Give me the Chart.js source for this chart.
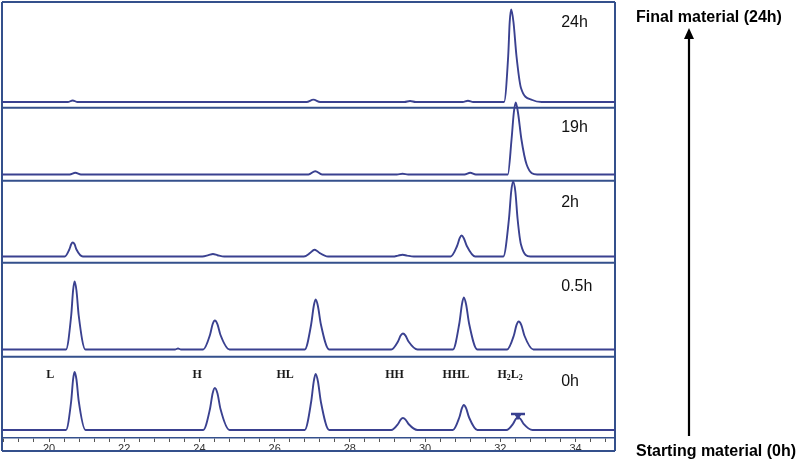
<!DOCTYPE html>
<html>
<head>
<meta charset="utf-8">
<script src="https://cdn.jsdelivr.net/npm/chart.js@4/dist/chart.umd.min.js"></script>
<style>
  html, body { margin: 0; padding: 0; background: #fff; }
  #wrap { width: 800px; height: 462px; }
</style>
</head>
<body>
<div id="wrap"><canvas id="chrom" width="800" height="462"></canvas></div>
<script>
// retention time (min) vs detector signal, one trace per sampling time
var panelNames = ['0h', '0.5h', '2h', '19h', '24h'];

var trace0h = [
  [18.75,0],[20.45,0],[20.59,29],[20.64,50.5],[20.68,58],[20.73,50.5],[20.79,29],[20.97,0],
  [24.10,0],[24.28,21],[24.35,36.5],[24.41,42],[24.48,36.5],[24.56,21],[24.80,0],
  [26.80,0],[26.97,28],[27.04,48.7],[27.09,56],[27.15,48.7],[27.23,28],[27.45,0],
  [29.10,0],[29.28,6],[29.35,10.4],[29.41,12],[29.48,10.4],[29.56,6],[29.80,0],
  [30.74,0],[30.91,12.5],[30.98,21.8],[31.03,25],[31.09,21.8],[31.17,12.5],[31.39,0],
  [32.16,0],[32.34,6.2],[32.41,10.9],[32.47,12.5],[32.54,10.9],[32.62,6.2],[32.86,0],
  [35.05,0]
];
var trace05h = [
  [18.75,0],[20.45,0],[20.59,34],[20.64,59],[20.68,68],[20.73,59],[20.79,34],[20.97,0],
  [23.35,0],[23.43,1],[23.51,0],
  [24.10,0],[24.28,14.5],[24.35,25.2],[24.41,29],[24.48,25.2],[24.56,14.5],[24.80,0],
  [26.80,0],[26.97,25],[27.04,43.5],[27.09,50],[27.15,43.5],[27.23,25],[27.45,0],
  [29.10,0],[29.28,8],[29.35,13.9],[29.41,16],[29.48,13.9],[29.56,8],[29.80,0],
  [30.74,0],[30.91,26],[30.98,45.2],[31.03,52],[31.09,45.2],[31.17,26],[31.39,0],
  [32.18,0],[32.36,14],[32.43,24.4],[32.49,28],[32.56,24.4],[32.64,14],[32.88,0],
  [35.05,0]
];
var trace2h = [
  [18.75,0],[20.42,0],[20.54,7],[20.59,12.2],[20.63,14],[20.68,12.2],[20.73,7],[20.90,0],
  [24.08,0],[24.24,1.3],[24.36,2.5],[24.48,1.3],[24.66,0],
  [26.78,0],[26.94,3.4],[27.01,5.8],[27.06,6.7],[27.12,5.8],[27.20,3.4],[27.42,0],
  [29.15,0],[29.28,0.9],[29.40,1.7],[29.52,0.9],[29.70,0],
  [30.68,0],[30.85,10.5],[30.92,18.3],[30.97,21],[31.03,18.3],[31.11,10.5],[31.33,0],
  [32.08,0],[32.23,37.5],[32.29,65],[32.34,75],[32.40,65],[32.46,37.5],[32.55,12],[32.80,0],
  [35.05,0]
];
var trace19h = [
  [18.75,0],[20.55,0],[20.70,1.7],[20.85,0],
  [26.90,0],[27.08,3.3],[27.26,0],
  [29.25,0],[29.40,0.7],[29.55,0],
  [31.05,0],[31.20,1.7],[31.35,0],
  [32.20,0],[32.30,35.5],[32.36,62],[32.41,72],[32.47,62],[32.56,35.5],[32.70,10],[32.98,0],
  [35.05,0]
];
var trace24h = [
  [18.75,0],[20.50,0],[20.63,1.5],[20.76,0],
  [26.85,0],[27.03,2.4],[27.21,0],
  [29.45,0],[29.60,1],[29.75,0],
  [31.00,0],[31.14,1.3],[31.28,0],
  [32.10,0],[32.21,46],[32.25,80],[32.29,92.5],[32.35,80],[32.43,46],[32.55,14],[32.85,2],[33.10,0],
  [35.05,0]
];
var traces = [trace0h, trace05h, trace2h, trace19h, trace24h];

var peakNames = ['L', 'H', 'HL', 'HH', 'HHL', 'H2L2'];
var peakMarker0h = [[32.47, 16], [32.47, 14]];
var xTickLabels = [20, 22, 24, 26, 28, 30, 32, 34];

// layout (signal units = px)
var panelBase = [8, 88.5, 181.5, 263.5, 336];
var separators = [81.3, 175.3, 257.3, 330.3];
var panelLabelPos = [[33.62, 56], [33.62, 151], [33.62, 235], [33.62, 310], [33.62, 415]];
var peakLabelPos = [[20.03, 63], [23.94, 63], [26.28, 63], [29.19, 63], [30.82, 63], [32.26, 63]];

var traceColor = '#3a4190';
var frameColor = '#34508c';

var datasets = traces.map(function(tr, i) {
  return {
    label: panelNames[i],
    data: tr.map(function(p) { return { x: p[0], y: p[1] + panelBase[i] }; }),
    showLine: true,
    borderColor: traceColor,
    borderWidth: 1.9,
    pointRadius: 0,
    cubicInterpolationMode: 'monotone',
    fill: false
  };
});
datasets.push({
  label: 'marker',
  data: peakMarker0h.map(function(p) { return { x: p[0], y: p[1] + panelBase[0] }; }),
  showLine: false,
  pointStyle: ['line', 'triangle'],
  rotation: [0, 180],
  pointRadius: [7, 3.5],
  borderColor: traceColor,
  backgroundColor: traceColor,
  pointBorderWidth: [2.5, 1]
});

function drawSub(ctx, parts, cx, cy) {
  var big = 'bold 12px "Liberation Serif", "Times New Roman", serif';
  var small = 'bold 8px "Liberation Serif", "Times New Roman", serif';
  var w = 0;
  parts.forEach(function(p) { ctx.font = p.sub ? small : big; w += ctx.measureText(p.t).width; });
  var x = cx - w / 2;
  parts.forEach(function(p) {
    ctx.font = p.sub ? small : big;
    ctx.fillText(p.t, x, p.sub ? cy + 3 : cy);
    x += ctx.measureText(p.t).width;
  });
}

var framePlugin = {
  id: 'frames',
  beforeDatasetsDraw: function(chart) {
    var ctx = chart.ctx, ca = chart.chartArea, ys = chart.scales.y;
    var frameBottom = ca.bottom + 13;
    ctx.save();
    ctx.strokeStyle = frameColor;
    ctx.lineWidth = 2;
    ctx.beginPath();
    ctx.moveTo(ca.left, ca.top); ctx.lineTo(ca.right, ca.top);
    ctx.moveTo(ca.left, ca.top); ctx.lineTo(ca.left, frameBottom);
    ctx.moveTo(ca.right, ca.top); ctx.lineTo(ca.right, frameBottom);
    ctx.moveTo(ca.left, frameBottom); ctx.lineTo(ca.right, frameBottom);
    separators.forEach(function(s) {
      var y = ys.getPixelForValue(s);
      ctx.moveTo(ca.left, y); ctx.lineTo(ca.right, y);
    });
    ctx.stroke();
    ctx.restore();
  },
  afterDatasetsDraw: function(chart) {
    var ctx = chart.ctx, xs = chart.scales.x, ys = chart.scales.y;
    ctx.save();
    ctx.fillStyle = '#111';
    ctx.textBaseline = 'middle';
    ctx.textAlign = 'left';
    ctx.font = '16px "Liberation Sans", Arial, sans-serif';
    panelNames.forEach(function(n, i) {
      ctx.fillText(n, xs.getPixelForValue(panelLabelPos[i][0]), ys.getPixelForValue(panelLabelPos[i][1]));
    });
    ctx.fillStyle = '#1a1a1a';
    peakNames.forEach(function(n, i) {
      var parts = [];
      n.split('').forEach(function(c) { parts.push({ t: c, sub: /[0-9]/.test(c) }); });
      drawSub(ctx, parts, xs.getPixelForValue(peakLabelPos[i][0]), ys.getPixelForValue(peakLabelPos[i][1]));
    });

    // time arrow on the right
    var ax = 689, top = 28, bottom = 436;
    ctx.strokeStyle = '#000';
    ctx.fillStyle = '#000';
    ctx.lineWidth = 2.2;
    ctx.beginPath();
    ctx.moveTo(ax, bottom); ctx.lineTo(ax, top + 8);
    ctx.stroke();
    ctx.beginPath();
    ctx.moveTo(ax, top); ctx.lineTo(ax - 5, top + 11); ctx.lineTo(ax + 5, top + 11);
    ctx.closePath(); ctx.fill();
    ctx.textAlign = 'center';
    ctx.font = 'bold 16px "Liberation Sans", Arial, sans-serif';
    ctx.fillText('Final material (24h)', 709, 18);
    ctx.fillText('Starting material (0h)', 716, 452);
    ctx.restore();
  }
};

new Chart(document.getElementById('chrom').getContext('2d'), {
  type: 'scatter',
  data: { datasets: datasets },
  options: {
    responsive: false,
    animation: false,
    devicePixelRatio: 1,
    layout: { autoPadding: false, padding: { left: 2, top: 2, right: 185, bottom: 0 } },
    plugins: { legend: { display: false }, tooltip: { enabled: false } },
    scales: {
      x: {
        type: 'linear',
        min: 18.75,
        max: 35.05,
        afterFit: function(scale) { scale.height = 24; },
        afterBuildTicks: function(scale) {
          var t = [];
          for (var v = 18.8; v < 35.05; v += 0.4) t.push({ value: Math.round(v * 10) / 10 });
          scale.ticks = t;
        },
        ticks: {
          autoSkip: false,
          maxRotation: 0,
          padding: 0,
          color: '#333',
          font: { family: '"Liberation Sans", Arial, sans-serif', size: 11 },
          callback: function(v) { return xTickLabels.indexOf(v) >= 0 ? String(v) : ''; }
        },
        grid: { drawOnChartArea: false, drawTicks: true, tickLength: 4, tickColor: '#555', tickWidth: 1 },
        border: { display: true, color: frameColor, width: 1.5 }
      },
      y: { display: false, min: 0, max: 436 }
    }
  },
  plugins: [framePlugin]
});
</script>
</body>
</html>
